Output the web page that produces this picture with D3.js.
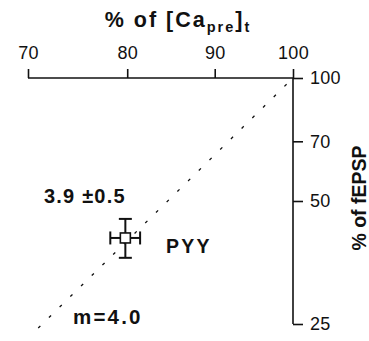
<!DOCTYPE html>
<html>
<head>
<meta charset="utf-8">
<script src="https://cdn.jsdelivr.net/npm/d3@7"></script>
<style>
  body { margin: 0; background: #fff; }
  svg { display: block; font-family: "Liberation Sans", Arial, sans-serif; }
</style>
</head>
<body>
<svg id="chart" width="369" height="341"></svg>
<script>
// values
const xTicks = [70, 80, 90, 100];
const yTicks = [100, 70, 50, 25];
const fitLine = [{ x: 100, y: 100 }, { x: 70.66, y: 24.0 }];
const points = [{ x: 79.8, xLo: 78.2, xHi: 81.4, y: 40.6, yLo: 36.3, yHi: 45.2, label: "PYY" }];
const slopeText = "3.9 \u00b10.5";
const fitText = "m=4.0";

const svg = d3.select("#chart");

const x = d3.scaleLog().domain([70, 100]).range([28, 293]);
const y = d3.scaleLog().domain([25, 100]).range([324, 78]);

// top axis
const xAxis = svg.append("g").attr("transform", "translate(0," + y(100) + ")")
  .call(d3.axisTop(x).tickValues(xTicks).tickFormat(d3.format("d")).tickSize(9).tickPadding(10));
xAxis.select(".domain").attr("d", "M" + x(70) + ",0H" + x(100));

// right axis
const yAxis = svg.append("g").attr("transform", "translate(" + x(100) + ",0)")
  .call(d3.axisRight(y).tickValues(yTicks).tickFormat(d3.format("d")).tickSize(10).tickPadding(7));
yAxis.select(".domain").attr("d", "M0," + y(100) + "V" + y(25));

svg.selectAll(".domain, .tick line").attr("stroke", "#111").attr("stroke-width", 1.6);
svg.selectAll(".tick text").attr("fill", "#111")
  .style("font-family", "'Liberation Sans', Arial, sans-serif").style("font-size", "18px")
  .attr("letter-spacing", 0.3);

// axis titles
const title = svg.append("text").attr("x", 178).attr("y", 27).attr("text-anchor", "middle")
  .attr("font-weight", "bold").attr("font-size", 21.5).attr("letter-spacing", 2).attr("fill", "#111");
title.append("tspan").text("% of [Ca");
title.append("tspan").attr("font-size", 14.5).attr("dy", 5).text("pre");
title.append("tspan").attr("dy", -5).text("]");
title.append("tspan").attr("font-size", 14.5).attr("dy", 5).text("t");

svg.append("text").attr("transform", "translate(366,198) rotate(-90)")
  .attr("text-anchor", "middle").attr("font-weight", "bold").attr("font-size", 19.5)
  .attr("fill", "#111").text("% of fEPSP");

// fitted line
svg.append("path").datum(fitLine)
  .attr("fill", "none").attr("stroke", "#111").attr("stroke-width", 1.3)
  .attr("stroke-dasharray", "3,12").attr("stroke-dashoffset", -9)
  .attr("d", d3.line().x(d => x(d.x)).y(d => y(d.y)));

// point with error bars
const pt = svg.append("g").selectAll("g").data(points).join("g")
  .attr("stroke", "#111").attr("stroke-width", 2);
pt.append("line").attr("x1", d => x(d.xLo)).attr("x2", d => x(d.xHi))
  .attr("y1", d => y(d.y)).attr("y2", d => y(d.y));
pt.append("line").attr("x1", d => x(d.x)).attr("x2", d => x(d.x))
  .attr("y1", d => y(d.yLo)).attr("y2", d => y(d.yHi));
pt.append("line").attr("x1", d => x(d.xLo)).attr("x2", d => x(d.xLo))
  .attr("y1", d => y(d.y) - 6.5).attr("y2", d => y(d.y) + 6.5);
pt.append("line").attr("x1", d => x(d.xHi)).attr("x2", d => x(d.xHi))
  .attr("y1", d => y(d.y) - 6.5).attr("y2", d => y(d.y) + 6.5);
pt.append("line").attr("x1", d => x(d.x) - 6.5).attr("x2", d => x(d.x) + 6.5)
  .attr("y1", d => y(d.yLo)).attr("y2", d => y(d.yLo));
pt.append("line").attr("x1", d => x(d.x) - 6.5).attr("x2", d => x(d.x) + 6.5)
  .attr("y1", d => y(d.yHi)).attr("y2", d => y(d.yHi));
pt.append("rect").attr("x", d => x(d.x) - 5).attr("y", d => y(d.y) - 5)
  .attr("width", 10).attr("height", 10).attr("fill", "#fff").attr("stroke-width", 1.6);

pt.append("text").attr("x", 166).attr("y", 253).attr("stroke", "none")
  .attr("fill", "#111").attr("font-weight", "bold").attr("font-size", 19.5)
  .attr("letter-spacing", 2.2).text(d => d.label);

svg.append("text").attr("x", 44).attr("y", 203).attr("fill", "#111")
  .attr("font-weight", "bold").attr("font-size", 20).attr("letter-spacing", 1.2)
  .text(slopeText);

svg.append("text").attr("x", 73).attr("y", 324).attr("fill", "#111")
  .attr("font-weight", "bold").attr("font-size", 20.5).attr("letter-spacing", 2.2)
  .text(fitText);
</script>
</body>
</html>
